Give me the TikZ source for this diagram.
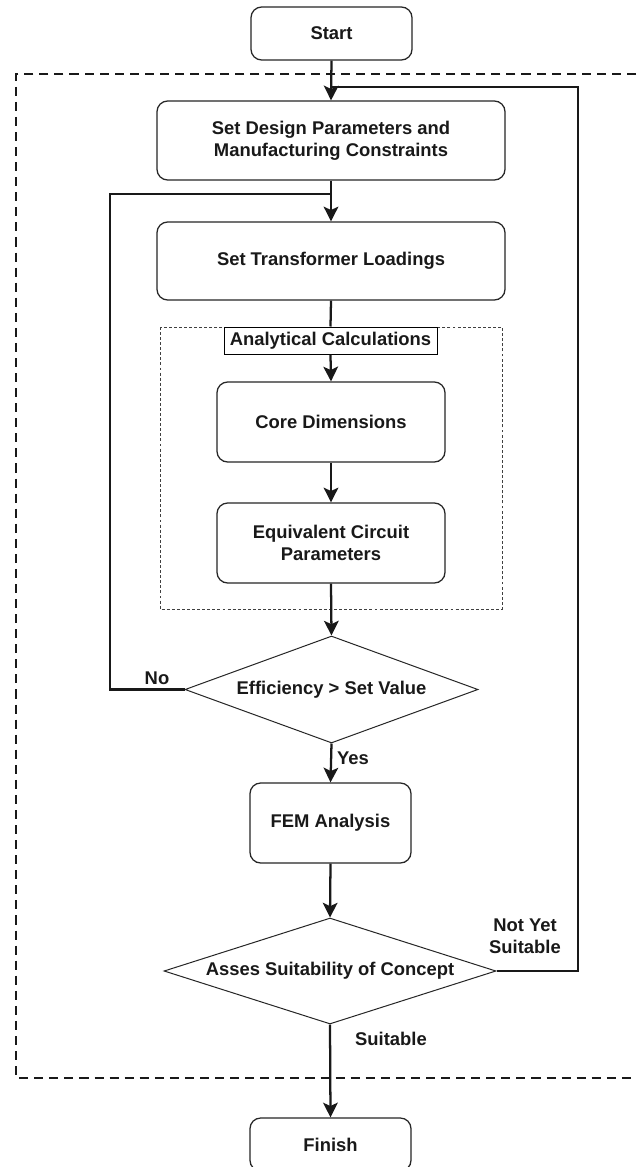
\documentclass[tikz,border=0pt]{standalone}
\usepackage{fontspec}
\setmainfont{Liberation Sans}
\usetikzlibrary{arrows.meta,shapes.geometric}
\begin{document}
\begin{tikzpicture}[x=0.75pt,y=-0.75pt,
  font=\fontsize{13.8}{16.5}\selectfont\bfseries,
  every node/.style={text=black!90},
  box/.style={draw=black!85,line width=0.95pt,rounded corners=8pt,align=center,inner sep=0pt},
  dia/.style={draw=black!85,line width=0.75pt,diamond,inner sep=0pt,align=center},
  conn/.style={line width=1.7pt,draw=black!90},
  arr/.style={conn,-{Stealth[length=11pt,width=11pt,inset=2.5pt]}},
  lbl/.style={align=center,inner sep=0pt}
]
\useasboundingbox (0,0) rectangle (636,1167);
\fill[white] (0,0) rectangle (636,1167);

% outer dashed region
\draw[line width=2pt,dash pattern=on 6.8pt off 4.5pt,black!90]
  (636,74) -- (16,74) -- (16,1078) -- (636,1078);

% inner dotted region
\draw[line width=0.75pt,dash pattern=on 2.2pt off 1.6pt,black!75]
  (160,327) rectangle (502,609);

% nodes
\node[box,minimum width=161*0.75pt,minimum height=53*0.75pt] (start) at (331.5,33.5) {Start};
\node[box,minimum width=348*0.75pt,minimum height=79*0.75pt] (design) at (331,140.5) {Set Design Parameters and\\Manufacturing Constraints};
\node[box,minimum width=348*0.75pt,minimum height=78*0.75pt] (trans) at (331,261) {Set Transformer Loadings};
\node[draw=black,line width=0.75pt,fill=white,inner sep=0pt,minimum width=213*0.75pt,minimum height=27*0.75pt] (lab) at (330.5,340.5) {Analytical Calculations};
\node[box,minimum width=228*0.75pt,minimum height=80*0.75pt] (core) at (331,422) {Core Dimensions};
\node[box,minimum width=228*0.75pt,minimum height=80*0.75pt] (equiv) at (331,543) {Equivalent Circuit\\Parameters};
\node[dia,minimum width=293*0.75pt,minimum height=107*0.75pt,shape aspect=2.74] (eff) at (331.5,689.5) {Efficiency \textgreater{} Set Value};
\node[box,minimum width=161*0.75pt,minimum height=80*0.75pt] (fem) at (330.5,823) {FEM Analysis};
\node[dia,minimum width=332*0.75pt,minimum height=106*0.75pt,shape aspect=3.13] (assess) at (330,971) {Asses Suitability of Concept};
\node[box,minimum width=161*0.75pt,minimum height=53*0.75pt] (finish) at (330.5,1144.5) {Finish};

% labels
\node[lbl] (no) at (157,678) {No};
\node[lbl] (yes) at (353,758) {Yes};
\node[lbl] (nys) at (525,936) {Not Yet\\Suitable};
\node[lbl] (suit) at (391,1039) {Suitable};

% coordinates for loops
\coordinate (j1) at (331.5,87);
\coordinate (r1) at (578,971);
\coordinate (j2) at (331,194);
\coordinate (l1) at (110,689.5);

% connectors
\draw[arr] (start.south) -- (design.north);
\draw[conn] (assess.east) -- (r1) |- (j1);
\draw[arr] (design.south) -- (trans.north);
\draw[conn] (eff.west) -- (l1) |- (j2);
\draw[conn] (trans.south) -- (lab.north);
\draw[arr] (lab.south) -- (core.north);
\draw[arr] (core.south) -- (equiv.north);
\draw[arr] (equiv.south) -- (eff.north);
\draw[arr] (eff.south) -- (fem.north);
\draw[arr] (fem.south) -- (assess.north);
\draw[arr] (assess.south) -- (finish.north);
\end{tikzpicture}
\end{document}
